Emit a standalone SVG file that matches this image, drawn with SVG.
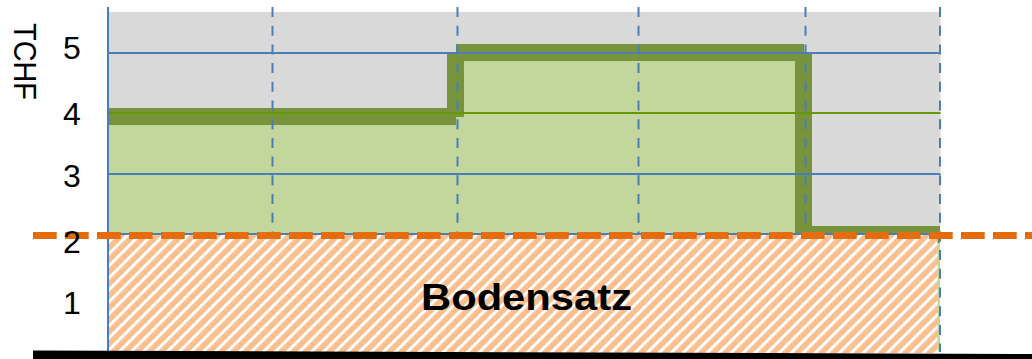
<svg xmlns="http://www.w3.org/2000/svg" width="1032" height="359" viewBox="0 0 1032 359">
  <defs>
    <pattern id="hatch" patternUnits="userSpaceOnUse" width="8.5" height="8.5" patternTransform="rotate(45)">
      <rect x="0" y="0" width="8.5" height="8.5" fill="#fabf8f"/>
      <rect x="0" y="0" width="3" height="8.5" fill="#ffffff"/>
    </pattern>
    <style>
      .grid { stroke: #4a7ebb; stroke-width: 2; fill: none; }
      .vdash { stroke: #4a7ebb; stroke-width: 2; stroke-dasharray: 10 8.7; fill: none; }
      .step { fill: #77933c; }
      .lbl { font-family: "Liberation Sans", Arial, sans-serif; font-size: 32px; fill: #000; }
      .title { font-family: "Liberation Sans", Arial, sans-serif; font-size: 37px; font-weight: bold; fill: #000; }
    </style>
  </defs>
  <rect width="1032" height="359" fill="#ffffff"/>

  <g id="plot-area">
    <rect x="108" y="12" width="832.5" height="222" fill="#d9d9d9"/>
    <polygon points="108,117 456,117 456,53 804,53 804,234 108,234" fill="#c3d69b"/>
    <rect x="812" y="226" width="128" height="125" fill="#c3d69b"/>
  </g>

  <g id="step-line">
    <rect class="step" x="108" y="108" width="348" height="17"/>
    <rect class="step" x="447" y="54" width="17" height="63"/>
    <rect class="step" x="456" y="44" width="348" height="17"/>
    <rect class="step" x="795" y="53" width="17" height="181"/>
    <rect class="step" x="795" y="226" width="145" height="17"/>
  </g>

  <g id="gridlines">
    <line class="grid" x1="108" y1="53" x2="940.5" y2="53"/>
    <line class="grid" x1="108" y1="174" x2="940.5" y2="174"/>
    <line class="grid" x1="108" y1="234" x2="940.5" y2="234"/>
    <line x1="108" y1="113" x2="940.5" y2="113" stroke="#669900" stroke-width="2"/>
    <line class="vdash" x1="272.5" y1="7" x2="272.5" y2="234"/>
    <line class="vdash" x1="457.5" y1="7" x2="457.5" y2="234"/>
    <line class="vdash" x1="638.5" y1="7" x2="638.5" y2="234"/>
    <line class="vdash" x1="805.5" y1="7" x2="805.5" y2="234"/>
  </g>

  <g id="bodensatz">
    <rect x="109" y="235" width="828.5" height="118" fill="url(#hatch)"/>
    <text class="title" x="421" y="309.5" textLength="211" lengthAdjust="spacingAndGlyphs">Bodensatz</text>
  </g>

  <g id="axes">
    <line class="grid" x1="108" y1="7" x2="108" y2="352"/>
    <line class="vdash" x1="940" y1="7" x2="940" y2="352"/>
  </g>

  <g id="threshold">
    <line x1="33" y1="235.5" x2="1032" y2="235.5" stroke="#e46c0a" stroke-width="7" stroke-dasharray="23.7 8.3"/>
  </g>

  <g id="baseline">
    <polygon points="33,350.5 1032,354 1032,359 33,359" fill="#000000"/>
  </g>

  <g id="y-labels">
    <text class="lbl" x="72" y="59" text-anchor="middle">5</text>
    <text class="lbl" x="72" y="125" text-anchor="middle">4</text>
    <text class="lbl" x="72" y="186.5" text-anchor="middle">3</text>
    <text class="lbl" x="72" y="253" text-anchor="middle">2</text>
    <text class="lbl" x="72" y="314" text-anchor="middle">1</text>
    <text class="lbl" transform="translate(14,23) rotate(90)" x="0" y="0" textLength="77" lengthAdjust="spacingAndGlyphs">TCHF</text>
  </g>
</svg>
